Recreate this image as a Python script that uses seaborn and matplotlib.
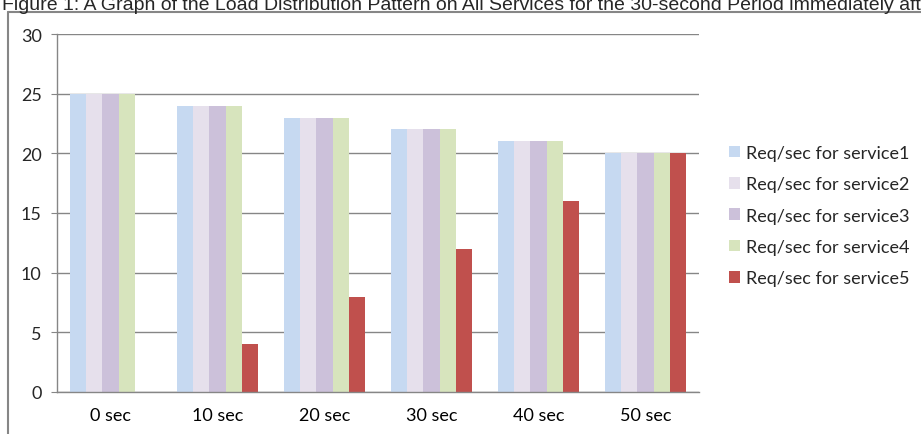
import numpy as np
import pandas as pd
import seaborn as sns
import matplotlib.pyplot as plt
from matplotlib.lines import Line2D

# Chart values
times = ['0 sec', '10 sec', '20 sec', '30 sec', '40 sec', '50 sec']
service1 = [25, 24, 23, 22, 21, 20]
service2 = [25, 24, 23, 22, 21, 20]
service3 = [25, 24, 23, 22, 21, 20]
service4 = [25, 24, 23, 22, 21, 20]
service5 = [0, 4, 8, 12, 16, 20]
series_names = ['Req/sec for service1', 'Req/sec for service2', 'Req/sec for service3',
                'Req/sec for service4', 'Req/sec for service5']
colors = ['#C6D9F1', '#E6E0EC', '#CCC1DA', '#D7E4BD', '#C0504D']

# long form table for seaborn
rows = []
for name, vals in zip(series_names, [service1, service2, service3, service4, service5]):
    for t, v in zip(times, vals):
        rows.append({'time': t, 'series': name, 'value': v})
df = pd.DataFrame(rows)

sns.set_style('white')
fig = plt.figure(figsize=(9.21, 4.35), dpi=100)
ax = fig.add_axes([57 / 921, 42 / 435, 642 / 921, 358 / 435])

sns.barplot(data=df, x='time', y='value', hue='series', order=times,
            hue_order=series_names, palette=colors, width=0.76,
            saturation=1, edgecolor='none', ax=ax, legend=True)

ax.set_ylim(0, 30)
ax.set_xlim(-0.5, 5.5)
ax.set_yticks(range(0, 31, 5))
ax.set_xlabel('')
ax.set_ylabel('')
ax.set_axisbelow(True)
ax.yaxis.grid(True, color='#868686', lw=1)
ax.xaxis.grid(False)
for s in ['top', 'right']:
    ax.spines[s].set_visible(False)
for s in ['left', 'bottom']:
    ax.spines[s].set_color('#868686')
    ax.spines[s].set_linewidth(1)

# ticks between categories like Excel
ax.set_xticks(np.arange(-0.5, 6, 1), minor=True)
ax.tick_params(axis='x', which='major', length=0, pad=11, labelsize=13, labelcolor='black')
ax.tick_params(axis='x', which='minor', length=4, color='#868686', direction='out')
ax.tick_params(axis='y', length=4, color='#868686', direction='out', pad=7,
               labelsize=13, left=True)
for lab in ax.get_xticklabels() + ax.get_yticklabels():
    lab.set_family('Lato')

handles, labels = ax.get_legend_handles_labels()
ax.get_legend().remove()
fig.legend(handles, labels, loc='center left', bbox_to_anchor=(713 / 921, 1 - 216.5 / 435),
           frameon=False, prop={'family': 'Lato', 'size': 13},
           handlelength=0.6, handleheight=0.6, handletextpad=0.35, labelspacing=0.85)

# caption, cut off at the right edge in the source
fig.text(0.002, 1 - 10 / 435, 'Figure 1: A Graph of the Load Distribution Pattern on All Services '
         'for the 30-second Period immediately after',
         family='Liberation Sans', fontsize=14, va='baseline', ha='left')

# surrounding frame of the chart object
fig.add_artist(Line2D([8 / 921, 8 / 921], [-0.1, 1 - 13 / 435], transform=fig.transFigure,
                      color='#868686', lw=1.5))
fig.add_artist(Line2D([8 / 921, 1.1], [1 - 13 / 435, 1 - 13 / 435], transform=fig.transFigure,
                      color='#868686', lw=1.5))

fig.savefig('out.png', dpi=100)
